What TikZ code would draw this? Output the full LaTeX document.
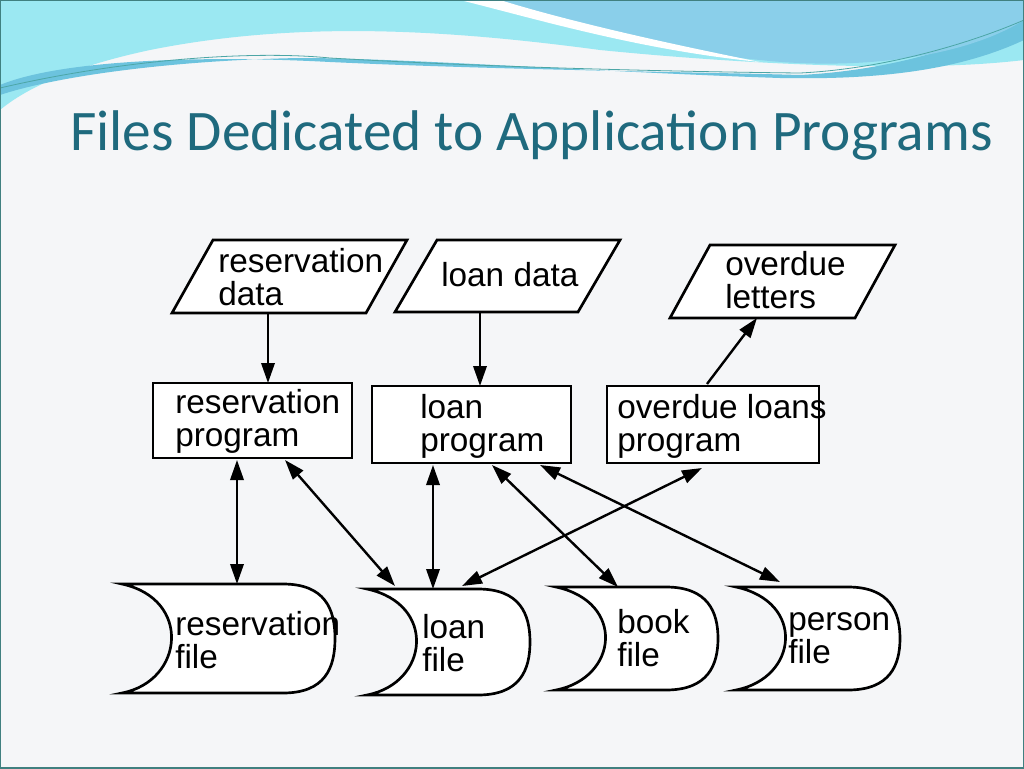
\documentclass[tikz,border=0pt]{standalone}
\usepackage{fontspec}
\setmainfont{Liberation Sans}
\newfontfamily\titlefont{Carlito}
\usetikzlibrary{arrows.meta}
\definecolor{bgc}{HTML}{F5F6F8}
\definecolor{titc}{HTML}{1F6A7E}
\definecolor{wa}{HTML}{9BE8F2}
\definecolor{wb}{HTML}{6CC3DE}
\definecolor{wc}{HTML}{8ACFEA}
\begin{document}
\begin{tikzpicture}[x=0.75pt,y=-0.75pt,
  lbl/.style={font=\fontsize{25}{25}\selectfont,align=left,inner sep=0pt,anchor=north west},
  conn/.style={line width=1.8pt,-{Triangle[length=15pt,width=10pt]}},
  bconn/.style={line width=1.8pt,{Triangle[length=15pt,width=10pt]}-{Triangle[length=15pt,width=10pt]}},
  shp/.style={line width=2pt}]
\useasboundingbox (0,0) rectangle (1024,768);
\fill[bgc] (0,0) rectangle (1024,768);
% header waves
\fill[wa] (0,0) -- (1024,0) -- (1024,60) .. controls (900,75) and (700,60) .. (600,50) .. controls (450,30) and (300,20) .. (150,50) .. controls (80,65) and (30,85) .. (0,110) -- cycle;
\fill[wb] (0,85) .. controls (60,60) and (200,55) .. (330,62) .. controls (500,70) and (700,72) .. (800,75) .. controls (900,70) and (990,40) .. (1024,10) -- (1024,40) .. controls (960,70) and (880,80) .. (780,78) .. controls (600,72) and (400,58) .. (300,58) .. controls (180,60) and (60,75) .. (0,95) -- cycle;
\fill[wc] (480,0) -- (1024,0) -- (1024,20) .. controls (960,60) and (850,70) .. (760,60) .. controls (650,50) and (560,20) .. (480,0) -- cycle;
\fill[white] (460,0) .. controls (540,20) and (640,50) .. (760,62) .. controls (700,50) and (580,25) .. (500,0) -- cycle;
\draw[teal!70,line width=0.6pt] (0,88) .. controls (120,60) and (250,50) .. (330,58) .. controls (500,68) and (700,72) .. (800,73) .. controls (900,68) and (990,35) .. (1024,20);
\draw[teal!50!gray,line width=0.8pt] (0,0) rectangle (1024,768);
\node[text=titc,font=\titlefont\fontsize{43}{45}\selectfont,anchor=base west,inner sep=0pt] (title) at (70,150) {Files Dedicated to Application Programs};
% input/output parallelograms
\draw[shp,fill=white] (213,240) -- (407,240) -- (366,313) -- (172,313) -- cycle;
\node[lbl] (rd) at (218,248) {reservation\\data};
\coordinate (rdb) at (268,313);
\draw[shp,fill=white] (437,240) -- (620,240) -- (578,312) -- (395,312) -- cycle;
\node[lbl] (ld) at (441,262) {loan data};
\coordinate (ldb) at (480,312);
\draw[shp,fill=white] (710,245) -- (895,245) -- (855,318) -- (670,318) -- cycle;
\node[lbl] (ol) at (725,251) {overdue\\letters};
\coordinate (olb) at (757,318);
% programs
\draw[shp,fill=white] (153,383) rectangle (352,458);
\node[lbl] (rp) at (175,389) {reservation\\program};
\draw[shp,fill=white] (372,386) rectangle (571,463);
\node[lbl] (lp) at (420,394) {loan\\program};
\draw[shp,fill=white] (607,386) rectangle (819,463);
\node[lbl] (op) at (617,394) {overdue loans\\program};
% files
\newcommand\filesh[4]{%
  \draw[shp,fill=white] (#1,#2) -- (#3-52,#2) .. controls (#3-10,#2) and (#3,#2+25) .. (#3,{(#2+#4)/2}) .. controls (#3,#4-25) and (#3-10,#4) .. (#3-52,#4) -- (#1,#4) .. controls (#1+62,#4-12) and (#1+70,#2+15) .. (#1,#2) -- cycle;}
\filesh{122}{584}{335}{693}
\node[lbl] (rf) at (175,611) {reservation\\file};
\filesh{367}{589}{530}{695}
\node[lbl] (lf) at (422,614) {loan\\file};
\filesh{556}{587}{718}{690}
\node[lbl] (bf) at (617,609) {book\\file};
\filesh{736}{587}{900}{690}
\node[lbl] (pf) at (788,612) {person\\file};
% coordinates for connectors
\coordinate (a1) at (268,383);
\coordinate (a2) at (480,386);
\coordinate (a3) at (707,384);
\coordinate (r1) at (237,460); \coordinate (r2) at (237,584);
\coordinate (r3) at (285,460); \coordinate (l1) at (395,586);
\coordinate (l2) at (433,465); \coordinate (l3) at (433,589);
\coordinate (l4) at (492,465); \coordinate (b1) at (618,587);
\coordinate (l5) at (540,465); \coordinate (p1) at (780,582);
\coordinate (o1) at (702,468); \coordinate (l6) at (462,586);
\draw[conn] (rdb) -- (a1);
\draw[conn] (ldb) -- (a2);
\draw[conn] (a3) -- (olb);
\draw[bconn] (r1) -- (r2);
\draw[bconn] (r3) -- (l1);
\draw[bconn] (l2) -- (l3);
\draw[bconn] (l4) -- (b1);
\draw[bconn] (l5) -- (p1);
\draw[bconn] (o1) -- (l6);
\end{tikzpicture}
\end{document}
